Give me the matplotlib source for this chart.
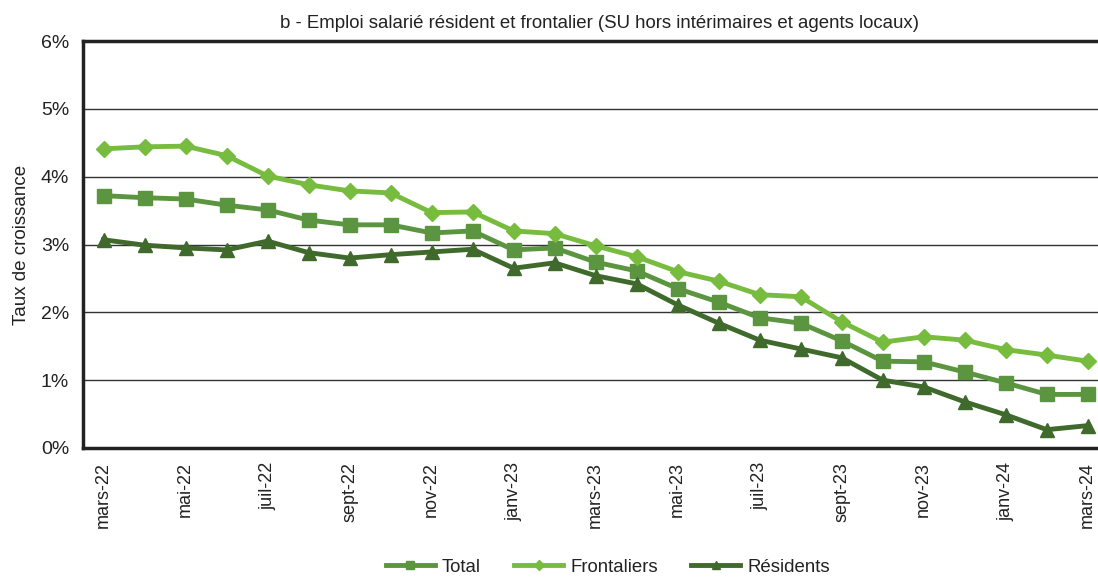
import numpy as np
import matplotlib.pyplot as plt

plt.rcParams["font.family"] = ["Liberation Sans", "DejaVu Sans"]

months = ["mars-22", "avr-22", "mai-22", "juin-22", "juil-22", "août-22",
          "sept-22", "oct-22", "nov-22", "déc-22", "janv-23", "févr-23",
          "mars-23", "avr-23", "mai-23", "juin-23", "juil-23", "août-23",
          "sept-23", "oct-23", "nov-23", "déc-23", "janv-24", "févr-24",
          "mars-24"]

total = [3.72, 3.69, 3.67, 3.58, 3.51, 3.36, 3.29, 3.29, 3.17, 3.20, 2.92,
         2.95, 2.74, 2.61, 2.35, 2.15, 1.92, 1.84, 1.58, 1.28, 1.27, 1.12,
         0.96, 0.79, 0.79]
frontaliers = [4.41, 4.44, 4.45, 4.31, 4.01, 3.88, 3.79, 3.76, 3.47, 3.48,
               3.20, 3.16, 2.98, 2.82, 2.60, 2.46, 2.26, 2.23, 1.86, 1.56,
               1.64, 1.59, 1.45, 1.37, 1.28]
residents = [3.07, 2.99, 2.95, 2.92, 3.05, 2.88, 2.80, 2.85, 2.89, 2.93,
             2.65, 2.73, 2.54, 2.42, 2.11, 1.84, 1.59, 1.46, 1.33, 1.00,
             0.90, 0.68, 0.49, 0.27, 0.33]

W, H = 1098, 577
fig = plt.figure(figsize=(W / 100, H / 100), dpi=100)
ax = fig.add_axes([83 / W, 1 - 448 / H, (1098 - 83) / W, (448 - 41) / H])

X = np.arange(len(months))
ax.plot(X, total, color="#5b9540", lw=3.5, marker="s", ms=10, label="Total",
        zorder=3)
ax.plot(X, frontaliers, color="#77bc3f", lw=3.5, marker="D", ms=8.5,
        label="Frontaliers", zorder=3)
ax.plot(X, residents, color="#3f6a2c", lw=3.5, marker="^", ms=10.5,
        label="Résidents", zorder=3)

ax.set_xlim(-0.5, 24.25)
ax.set_ylim(0, 6)
ax.set_yticks(np.arange(0, 7, 1))
ax.set_yticklabels(["%d%%" % v for v in range(7)], fontsize=14, color="#222222")
ax.yaxis.grid(True, color="#333333", lw=1)
ax.set_axisbelow(True)
ax.tick_params(axis="y", length=0, pad=10)

ax.set_xticks(X[::2])
ax.set_xticklabels(months[::2], rotation=90, fontsize=13, color="#222222")
ax.tick_params(axis="x", length=0, pad=10)

for s in ["top", "left", "bottom"]:
    ax.spines[s].set_color("#222222")
    ax.spines[s].set_linewidth(2.5)
ax.spines["right"].set_visible(False)

ax.set_ylabel("Taux de croissance", fontsize=13.5, color="#222222", labelpad=8)
fig.text(600 / W, 1 - 24 / H, "b - Emploi salarié résident et frontalier "
         "(SU hors intérimaires et agents locaux)", ha="center", va="center",
         fontsize=13.4, color="#222222")

leg = ax.legend(loc="center", bbox_to_anchor=(608 / W, 1 - 567 / H),
                bbox_transform=fig.transFigure, ncol=3, frameon=False,
                fontsize=13.4, markerscale=0.6, handlelength=2.6,
                columnspacing=1.8, handletextpad=0.4)
for t in leg.get_texts():
    t.set_color("#222222")

fig.savefig("out.png", dpi=100)
